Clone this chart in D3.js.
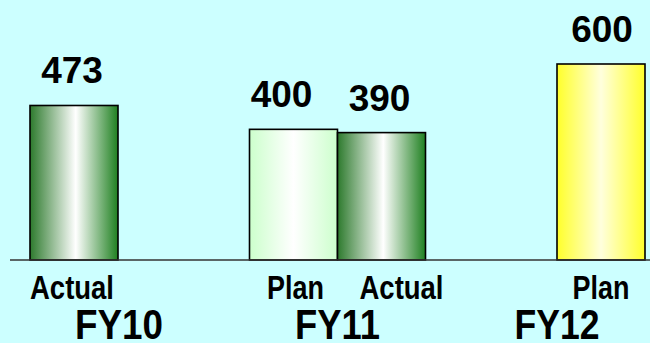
<!DOCTYPE html>
<html>
<head>
<meta charset="utf-8">
<script src="https://cdn.jsdelivr.net/npm/d3@7/dist/d3.min.js"></script>
<style>
  html, body { margin: 0; padding: 0; background: #ccffff; }
  svg { display: block; }
  text { font-family: "Liberation Sans", Arial, sans-serif; font-weight: bold; fill: #000; }
</style>
</head>
<body>
<svg id="chart" width="650" height="343"></svg>
<script>
// Fiscal years and the two series drawn per year
const years = ["FY10", "FY11", "FY12"];
const seriesNames = ["Plan", "Actual"];
const seriesLabels = ["Plan", "Actual"];

// Values per year (null = not shown)
const planValues = [null, 400, 600];
const actualValues = [473, 390, null];

// Flatten into bar records
const bars = [];
years.forEach((yr, i) => {
  if (planValues[i] != null) bars.push({ year: yr, series: "Plan", value: planValues[i], idx: i });
  if (actualValues[i] != null) bars.push({ year: yr, series: "Actual", value: actualValues[i], idx: i });
});

const svg = d3.select("#chart");
const W = 650, H = 343;

svg.append("rect").attr("width", W).attr("height", H).attr("fill", "#ccffff");

// Gradient fills: dark edges fading to a light centre
const defs = svg.append("defs");
function hGrad(id, stops) {
  const g = defs.append("linearGradient").attr("id", id)
    .attr("x1", "0%").attr("x2", "100%").attr("y1", "0%").attr("y2", "0%");
  stops.forEach(([o, c]) => g.append("stop").attr("offset", o).attr("stop-color", c));
}
hGrad("gActual", [["0%", "#2d7a2d"], ["52%", "#ffffff"], ["100%", "#1f8020"]]);
hGrad("gPlan", [["0%", "#ccffcc"], ["50%", "#ffffff"], ["100%", "#ccffcc"]]);
hGrad("gPlanNext", [["0%", "#ffff2a"], ["50%", "#ffffdd"], ["100%", "#ffff2a"]]);

function fillFor(d) {
  if (d.series === "Actual") return "url(#gActual)";
  return d.year === "FY12" ? "url(#gPlanNext)" : "url(#gPlan)";
}

// Scales: the visible area is a window onto a wider category axis
const x0 = d3.scaleBand().domain(years).range([-123.75, 798.75]).paddingInner(0).paddingOuter(0);
const groupW = 176;
const x1 = d3.scaleBand().domain(seriesNames)
  .range([(x0.bandwidth() - groupW) / 2, (x0.bandwidth() + groupW) / 2]).padding(0);
const y = d3.scaleLinear().domain([0, 600]).range([260, 64]);

// Bars
svg.append("g").selectAll("rect").data(bars).join("rect")
  .attr("x", d => x0(d.year) + x1(d.series))
  .attr("y", d => y(d.value))
  .attr("width", x1.bandwidth())
  .attr("height", d => y(0) - y(d.value))
  .attr("fill", fillFor)
  .attr("stroke", "#000")
  .attr("stroke-width", 1.6);

// Baseline axis
const axis = d3.axisBottom(x0).tickSize(0).tickFormat("");
const axG = svg.append("g").attr("transform", `translate(0,${y(0)})`).call(axis);
axG.select(".domain").attr("stroke", "#333").attr("stroke-width", 1.5)
  .attr("d", "M10,0H650");

// Value labels above each bar
const valueNudge = { "FY10-Actual": -2, "FY11-Plan": -12, "FY11-Actual": -2, "FY12-Plan": 1 };
svg.append("g").selectAll("text").data(bars).join("text")
  .attr("x", d => x0(d.year) + x1(d.series) + x1.bandwidth() / 2 + (valueNudge[d.year + "-" + d.series] || 0))
  .attr("y", d => y(d.value) - 22)
  .attr("text-anchor", "middle")
  .style("font-size", "37px")
  .text(d => d3.format("d")(d.value));

// Series labels under the baseline
const seriesNudge = { "FY10-Actual": -2, "FY11-Plan": 2, "FY11-Actual": 20, "FY12-Plan": 0 };
const seriesWidth = { "Plan": 57, "Actual": 84 };
svg.append("g").selectAll("text").data(bars).join("text")
  .attr("x", d => x0(d.year) + x1(d.series) + x1.bandwidth() / 2 + (seriesNudge[d.year + "-" + d.series] || 0) - seriesWidth[d.series] / 2)
  .attr("y", 298.7)
  .attr("textLength", d => seriesWidth[d.series])
  .attr("lengthAdjust", "spacingAndGlyphs")
  .style("font-size", "33px")
  .text(d => seriesLabels[seriesNames.indexOf(d.series)]);

// Fiscal-year labels
const yearNudge = [89, 0, -88];
const yearWidth = [88, 85, 85];
svg.append("g").selectAll("text").data(years).join("text")
  .attr("x", (d, i) => x0(d) + x0.bandwidth() / 2 + yearNudge[i] - yearWidth[i] / 2)
  .attr("y", 338.7)
  .attr("textLength", (d, i) => yearWidth[i])
  .attr("lengthAdjust", "spacingAndGlyphs")
  .style("font-size", "42px")
  .text(d => d);
</script>
</body>
</html>
